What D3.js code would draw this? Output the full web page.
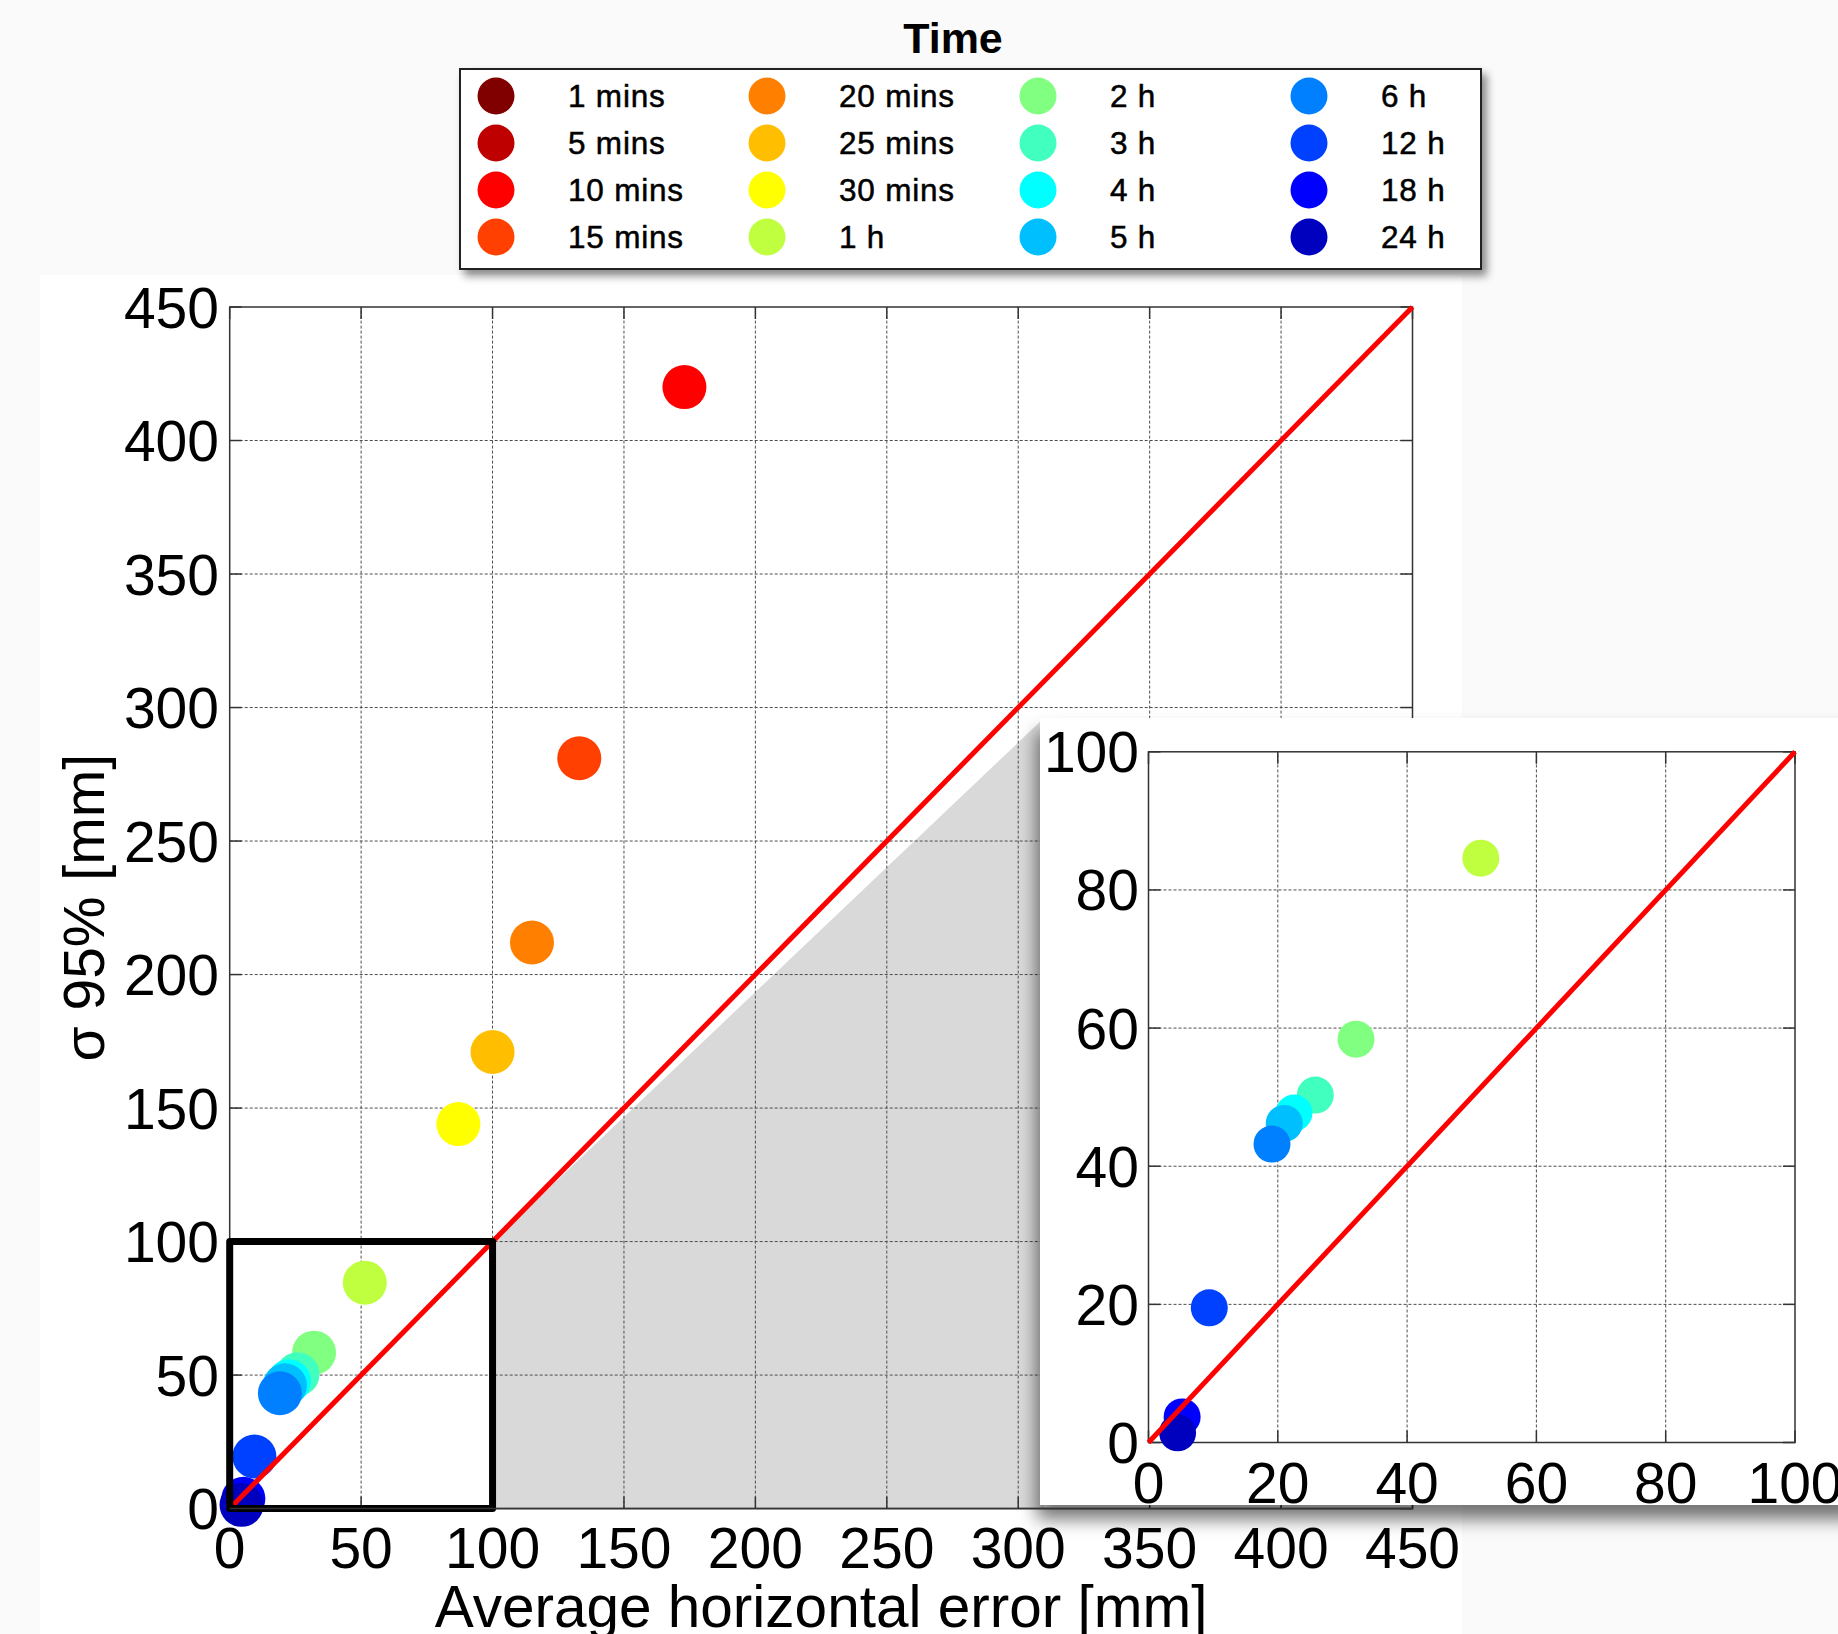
<!DOCTYPE html>
<html>
<head>
<meta charset="utf-8">
<script src="https://cdn.jsdelivr.net/npm/d3@7"></script>
<style>
  body { margin: 0; background: #fafafa; }
  svg { display: block; font-family: "Liberation Sans", Arial, sans-serif; }
</style>
</head>
<body>
<script>
// legend categories and colours (jet colormap, 16 steps)
const times = ["1 mins", "5 mins", "10 mins", "15 mins",
               "20 mins", "25 mins", "30 mins", "1 h",
               "2 h", "3 h", "4 h", "5 h",
               "6 h", "12 h", "18 h", "24 h"];
const colors = ["#800000", "#bf0000", "#ff0000", "#ff4000",
                "#ff8000", "#ffbf00", "#ffff00", "#bfff40",
                "#80ff80", "#40ffbf", "#00ffff", "#00bfff",
                "#0080ff", "#0040ff", "#0000ff", "#0000bf"];
// 1 and 5 mins are not on the plot
const avgError = [null, null, 173, 133, 115, 100, 87, 51.4, 32.1, 25.8, 22.5, 21.0, 19.1, 9.4, 5.2, 4.5];
const sigma95  = [null, null, 420, 281, 212, 171, 144, 84.6, 58.4, 50.3, 47.7, 46.2, 43.2, 19.5, 3.7, 1.4];

const W = 1838, H = 1634;
const font = 57;

const data = times.map((t, i) => ({time: t, color: colors[i], x: avgError[i], y: sigma95[i]}));
const pts = data.filter(d => d.x != null);

const svg = d3.select("body").append("svg")
    .attr("width", W)
    .attr("height", H);

const defs = svg.append("defs");
defs.append("filter")
    .attr("id", "legendShadow")
    .attr("x", "-10%").attr("y", "-10%").attr("width", "130%").attr("height", "150%")
  .append("feDropShadow")
    .attr("dx", 5).attr("dy", 6).attr("stdDeviation", 4)
    .attr("flood-color", "#000").attr("flood-opacity", 0.45);
defs.append("filter")
    .attr("id", "panelShadow")
    .attr("x", "-10%").attr("y", "-10%").attr("width", "130%").attr("height", "130%")
  .append("feDropShadow")
    .attr("dx", -3).attr("dy", 14).attr("stdDeviation", 9)
    .attr("flood-color", "#000").attr("flood-opacity", 0.55);

svg.append("rect").attr("width", W).attr("height", H).attr("fill", "#fafafa");
svg.append("rect")
    .attr("x", 40).attr("y", 275)
    .attr("width", 1422).attr("height", H - 275)
    .attr("fill", "#fff");

// main axes
const x = d3.scaleLinear().domain([0, 450]).range([229.7, 1412.5]);
const y = d3.scaleLinear().domain([0, 450]).range([1508.6, 307]);

// inset axes
const panel = {x: 1040, y: 718, w: 820, h: 787};
const xi = d3.scaleLinear().domain([0, 100]).range([1148.5, 1795]);
const yi = d3.scaleLinear().domain([0, 100]).range([1442.5, 751.8]);

function frame(g, sx, sy, n) {
  const [x0, x1] = sx.range(), [y0, y1] = sy.range();
  const tx = sx.ticks(n), ty = sy.ticks(n);

  g.append("g")
      .attr("stroke", "#4d4d4d")
      .attr("stroke-width", 1)
      .attr("stroke-dasharray", "3,2")
    .selectAll("line")
    .data(tx.slice(1, -1))
    .join("line")
      .attr("x1", d => sx(d)).attr("x2", d => sx(d))
      .attr("y1", y0).attr("y2", y1);

  g.append("g")
      .attr("stroke", "#4d4d4d")
      .attr("stroke-width", 1)
      .attr("stroke-dasharray", "3,2")
    .selectAll("line")
    .data(ty.slice(1, -1))
    .join("line")
      .attr("y1", d => sy(d)).attr("y2", d => sy(d))
      .attr("x1", x0).attr("x2", x1);

  const tk = g.append("g").attr("stroke", "#333").attr("stroke-width", 1.5);
  tx.forEach(d => {
    tk.append("line").attr("x1", sx(d)).attr("x2", sx(d)).attr("y1", y0).attr("y2", y0 - 12);
    tk.append("line").attr("x1", sx(d)).attr("x2", sx(d)).attr("y1", y1).attr("y2", y1 + 12);
  });
  ty.forEach(d => {
    tk.append("line").attr("y1", sy(d)).attr("y2", sy(d)).attr("x1", x0).attr("x2", x0 + 12);
    tk.append("line").attr("y1", sy(d)).attr("y2", sy(d)).attr("x1", x1).attr("x2", x1 - 12);
  });

  g.append("rect")
      .attr("x", x0).attr("y", y1)
      .attr("width", x1 - x0).attr("height", y0 - y1)
      .attr("fill", "none")
      .attr("stroke", "#333")
      .attr("stroke-width", 1.5);
}

function dots(g, sx, sy, list, r) {
  g.append("g")
    .selectAll("circle")
    .data(list)
    .join("circle")
      .attr("cx", d => sx(d.x))
      .attr("cy", d => sy(d.y))
      .attr("r", r)
      .attr("fill", d => d.color);
}

function diagonal(g, sx, sy) {
  const lim = sx.domain()[1];
  g.append("line")
      .attr("x1", sx(0)).attr("y1", sy(0))
      .attr("x2", sx(lim)).attr("y2", sy(lim))
      .attr("stroke", "#ff0000")
      .attr("stroke-width", 5);
}

// ---- main plot
const main = svg.append("g");

// zoom wedge towards the inset
main.append("polygon")
    .attr("points", [[x(100), y(100)], [panel.x + 4, panel.y], [panel.x + 4, y(0)], [x(100), y(0)]].join(" "))
    .attr("fill", "#d9d9d9");

frame(main, x, y, 9);
dots(main, x, y, pts, 22);
diagonal(main, x, y);

main.append("rect")
    .attr("x", x(0)).attr("y", y(100))
    .attr("width", x(100) - x(0)).attr("height", y(0) - y(100))
    .attr("fill", "none")
    .attr("stroke", "#000")
    .attr("stroke-width", 7)
    .attr("stroke-linejoin", "round");

// ---- inset
svg.append("rect")
    .attr("x", panel.x).attr("y", panel.y)
    .attr("width", panel.w).attr("height", panel.h)
    .attr("fill", "#fff")
    .attr("filter", "url(#panelShadow)");

const inset = svg.append("g");
frame(inset, xi, yi, 5);
dots(inset, xi, yi, pts.filter(d => d.x <= 100 && d.y <= 100), 18.5);
diagonal(inset, xi, yi);

inset.append("g")
    .attr("font-size", font)
    .attr("text-anchor", "end")
  .selectAll("text")
  .data(yi.ticks(5))
  .join("text")
    .attr("x", 1139)
    .attr("y", d => yi(d))
    .attr("dy", "0.36em")
    .text(d => d);

inset.append("g")
    .attr("font-size", font)
    .attr("text-anchor", "middle")
  .selectAll("text")
  .data(xi.ticks(5))
  .join("text")
    .attr("x", d => xi(d))
    .attr("y", 1503)
    .text(d => d);

// ---- main labels (over the inset shadow)
const lab = svg.append("g").attr("font-size", font);

lab.append("line")
    .attr("x1", x(0)).attr("x2", x(450))
    .attr("y1", y(0)).attr("y2", y(0))
    .attr("stroke", "#333")
    .attr("stroke-width", 1.5);

lab.append("g")
    .attr("text-anchor", "end")
  .selectAll("text")
  .data(y.ticks(9))
  .join("text")
    .attr("x", 219)
    .attr("y", d => y(d))
    .attr("dy", "0.36em")
    .text(d => d);

lab.append("g")
    .attr("text-anchor", "middle")
  .selectAll("text")
  .data(x.ticks(9))
  .join("text")
    .attr("x", d => x(d))
    .attr("y", 1568)
    .text(d => d);

lab.append("text")
    .attr("x", (x(0) + x(450)) / 2)
    .attr("y", 1627)
    .attr("text-anchor", "middle")
    .attr("font-size", 58.5)
    .text("Average horizontal error [mm]");

lab.append("text")
    .attr("transform", `translate(104,${(y(0) + y(450)) / 2}) rotate(-90)`)
    .attr("text-anchor", "middle")
    .text("σ 95% [mm]");

// ---- legend
const leg = svg.append("g");

leg.append("text")
    .attr("x", 953)
    .attr("y", 53)
    .attr("text-anchor", "middle")
    .attr("font-size", 43)
    .attr("font-weight", "bold")
    .text("Time");

leg.append("rect")
    .attr("x", 460).attr("y", 69)
    .attr("width", 1021).attr("height", 200)
    .attr("fill", "#fff")
    .attr("stroke", "#222")
    .attr("stroke-width", 2)
    .attr("filter", "url(#legendShadow)");

const colX = [496, 767, 1038, 1309];
const rowY = [96, 143, 190, 237];

const item = leg.selectAll("g.item")
  .data(data)
  .join("g")
    .attr("class", "item")
    .attr("transform", (d, i) => `translate(${colX[Math.floor(i / 4)]},${rowY[i % 4]})`);

item.append("circle")
    .attr("r", 18.5)
    .attr("fill", d => d.color);

item.append("text")
    .attr("x", 72)
    .attr("dy", "0.36em")
    .attr("font-size", 31.5)
    .attr("letter-spacing", 0.8)
    .attr("stroke", "#000")
    .attr("stroke-width", 0.5)
    .text(d => d.time);
</script>
</body>
</html>
